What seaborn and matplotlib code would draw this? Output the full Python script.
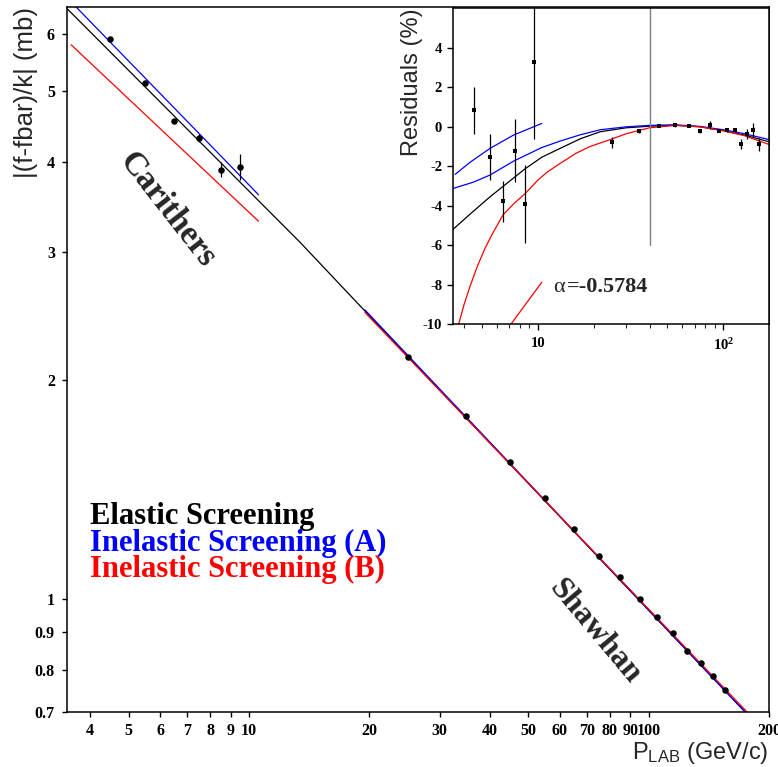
import matplotlib
matplotlib.use("Agg")
import matplotlib.pyplot as plt
import seaborn as sns
from matplotlib.ticker import FixedLocator, FixedFormatter, NullFormatter

sns.set_style("ticks")
plt.rcParams["font.family"] = ["Liberation Serif", "DejaVu Serif"]
plt.rcParams["font.weight"] = "bold"
plt.rcParams["mathtext.default"] = "regular"

# ---------------- data (main panel) ----------------
carithers_p = [4.5, 5.5, 6.5, 7.5, 8.5, 9.5]
carithers_val = [5.90, 5.13, 4.55, 4.31, 3.90, 3.93]
carithers_err = [0.03, 0.03, 0.03, 0.06, 0.09, 0.16]

shawhan_p = [25, 35, 45, 55, 65, 75, 85, 95, 105, 115, 125, 135, 145, 155]
shawhan_val = [2.156, 1.785, 1.546, 1.379, 1.250, 1.148, 1.072, 1.000,
               0.946, 0.898, 0.849, 0.817, 0.784, 0.750]

elastic_p = [3.5, 13.4, 25, 174]
elastic_val = [6.5, 3.10, 2.156, 0.70]
inelA_car_p = [3.5, 10.57]
inelA_car_val = [6.73, 3.60]
inelB_car_p = [3.59, 10.57]
inelB_car_val = [5.79, 3.31]
inelA_sh_p = [19.5, 174]
inelA_sh_val = [2.50, 0.70]
inelB_sh_p = [19.5, 176]
inelB_sh_val = [2.48, 0.70]

x_ticks = [4, 5, 6, 7, 8, 9, 10, 20, 30, 40, 50, 60, 70, 80, 90, 100, 200]
y_ticks = [0.7, 0.8, 0.9, 1, 2, 3, 4, 5, 6]

# ---------------- data (residual inset) ----------------
res_car_val = [0.83, -1.53, -3.78, -1.21, -3.90, 3.29]
res_car_err = [1.18, 1.16, 1.03, 1.60, 1.97, 3.93]
res_sh_val = [-0.79, -0.20, 0.05, 0.09, 0.05, -0.22, 0.09, -0.20, -0.15,
              -0.18, -0.86, -0.37, -0.17, -0.89]
res_sh_err = [0.28, 0.10, 0.08, 0.08, 0.08, 0.08, 0.20, 0.08, 0.10, 0.10,
              0.25, 0.25, 0.34, 0.34]

res_el_p = [3.5, 4.3, 5.53, 6.53, 8.44, 10.5, 13.2, 17, 21.7, 30, 40, 55, 75,
            100, 130, 177]
res_el_val = [-5.18, -4.43, -3.54, -3.0, -2.16, -1.54, -1.09, -0.6, -0.25, -0.05,
              0.03, 0.08, 0.0, -0.2, -0.42, -0.76]
res_A1_p = [3.58, 4.32, 5.53, 7.39, 10.5]
res_A1_val = [-2.41, -1.79, -1.09, -0.42, 0.17]
res_A2_p = [3.5, 4.5, 5.53, 7.39, 10.5, 13.2, 17, 21.7, 30, 40, 55, 75, 100, 130, 177]
res_A2_val = [-3.12, -2.80, -2.44, -1.74, -1.05, -0.72, -0.40, -0.15, 0.0,
              0.07, 0.10, 0.02, -0.15, -0.35, -0.65]
res_B1_p = [3.74, 4.0, 4.3, 4.7, 5.16, 5.7, 6.5, 7.5, 8.5, 10, 11.2, 13.2, 16,
            19.1, 25, 30, 40, 55, 75, 100, 130, 177]
res_B1_val = [-10.0, -9.0, -8.1, -7.1, -6.2, -5.4, -4.45, -3.85, -3.4, -2.7, -2.3,
              -1.85, -1.35, -1.0, -0.62, -0.35, -0.05, 0.07, 0.0, -0.2, -0.45, -0.9]
res_B2_p = [7.15, 10.5]
res_B2_val = [-10.0, -7.87]
gray_p = [40, 40]
gray_val = [-6.0, 6.0]

# ---------------- figure ----------------
W, H = 778, 767
fig = plt.figure(figsize=(W / 100, H / 100), dpi=100)


def fx(px):
    return px / W


def fy(py):
    return 1 - py / H


ax = fig.add_axes([fx(66.7), fy(711.7), fx(769) - fx(66.7), fy(7.3) - fy(711.7)])
ax.set_xscale("log")
ax.set_yscale("log")

for p, v, c in [(elastic_p, elastic_val, "black"),
                (inelA_car_p, inelA_car_val, "blue"),
                (inelB_car_p, inelB_car_val, "red"),
                (inelA_sh_p, inelA_sh_val, "blue"),
                (inelB_sh_p, inelB_sh_val, "red")]:
    sns.lineplot(x=p, y=v, ax=ax, color=c, lw=0.9, sort=False, estimator=None)

ax.errorbar(carithers_p, carithers_val, yerr=carithers_err, fmt="none",
            ecolor="black", elinewidth=0.9, capsize=0, zorder=4)
sns.scatterplot(x=carithers_p + shawhan_p, y=carithers_val + shawhan_val, ax=ax,
                color="black", s=22, edgecolor="black", linewidth=0, zorder=5)

ax.set_xlim(3.5, 200)
ax.set_ylim(0.7, 6.52)
ax.xaxis.set_major_locator(FixedLocator(x_ticks))
ax.xaxis.set_major_formatter(FixedFormatter([str(t) for t in x_ticks]))
ax.xaxis.set_minor_locator(FixedLocator([]))
ax.xaxis.set_minor_formatter(NullFormatter())
ax.yaxis.set_major_locator(FixedLocator(y_ticks))
ax.yaxis.set_major_formatter(FixedFormatter([("%g" % t) for t in y_ticks]))
ax.yaxis.set_minor_locator(FixedLocator([]))
ax.yaxis.set_minor_formatter(NullFormatter())
ax.tick_params(axis="both", which="both", direction="out", length=3.5, width=1,
               labelsize=11.5, colors="black")
ax.tick_params(axis="x", pad=4.5)
ax.tick_params(axis="y", pad=5)
for lbl in ax.get_xticklabels() + ax.get_yticklabels():
    lbl.set_fontweight("bold")
for s in ax.spines.values():
    s.set_linewidth(1.1)
    s.set_color("black")

ax.set_xlabel("P$_{LAB}$ (GeV/c)", fontfamily="Liberation Sans", fontweight="normal",
              fontsize=17, ha="right", va="top")
ax.xaxis.set_label_coords(0.9986, -0.040)
ax.set_ylabel("|(f-fbar)/k| (mb)", fontfamily="Liberation Sans", fontweight="normal",
              fontsize=18.5, ha="right", va="bottom")
ax.yaxis.set_label_coords(-0.041, 1.0)

# legend-like coloured texts
for txt, col, by in [("Elastic Screening", "black", 524),
                     ("Inelastic Screening (A)", "blue", 550.5),
                     ("Inelastic Screening (B)", "red", 577)]:
    fig.text(fx(90), fy(by), txt, color=col, fontsize=22, fontweight="bold",
             ha="left", va="baseline")

fig.text(fx(167), fy(210), "Carithers", fontsize=24, fontweight="bold",
         rotation=-52, ha="center", va="center", rotation_mode="anchor")
fig.text(fx(595), fy(632), "Shawhan", fontsize=23, fontweight="bold",
         rotation=-50, ha="center", va="center", rotation_mode="anchor")

# ---------------- inset ----------------
axin = fig.add_axes([fx(453.3), fy(324.3), fx(769.3) - fx(453.3), fy(8.3) - fy(324.3)])
axin.set_facecolor("white")
axin.set_xscale("log")
for p, v, c in [(res_el_p, res_el_val, "black"),
                (res_A1_p, res_A1_val, "blue"),
                (res_A2_p, res_A2_val, "blue"),
                (res_B1_p, res_B1_val, "red"),
                (res_B2_p, res_B2_val, "red")]:
    sns.lineplot(x=p, y=v, ax=axin, color=c, lw=0.9, sort=False, estimator=None)
sns.lineplot(x=gray_p, y=gray_val, ax=axin, color="#7f7f7f", lw=1.0, sort=False,
             estimator=None)
axin.errorbar(carithers_p + shawhan_p, res_car_val + res_sh_val,
              yerr=res_car_err + res_sh_err, fmt="none", ecolor="black",
              elinewidth=0.9, capsize=0, zorder=4)
sns.scatterplot(x=carithers_p + shawhan_p, y=res_car_val + res_sh_val, ax=axin,
                color="black", s=6, marker="s", linewidth=0, zorder=5)

axin.set_xlim(3.5, 177)
axin.set_ylim(-10, 6)
axin.xaxis.set_major_locator(FixedLocator([10, 100]))
axin.xaxis.set_major_formatter(FixedFormatter(["10", "10$^{2}$"]))
axin.xaxis.set_minor_locator(FixedLocator([4, 5, 6, 7, 8, 9, 20, 30, 40, 50, 60, 70, 80, 90]))
axin.xaxis.set_minor_formatter(NullFormatter())
axin.yaxis.set_major_locator(FixedLocator([-10, -8, -6, -4, -2, 0, 2, 4]))
axin.yaxis.set_major_formatter(FixedFormatter(["-10", "-8", "-6", "-4", "-2", "0", "2", "4"]))
axin.tick_params(axis="both", which="major", direction="out", length=4, width=1,
                 labelsize=10.5, colors="black")
axin.tick_params(axis="x", which="minor", direction="out", length=3, width=0.8)
axin.tick_params(axis="x", pad=5)
axin.tick_params(axis="y", pad=4)
for lbl in axin.get_xticklabels() + axin.get_yticklabels():
    lbl.set_fontweight("bold")
for s in axin.spines.values():
    s.set_linewidth(1.1)
    s.set_color("black")
axin.set_xlabel("")
axin.set_ylabel("Residuals (%)", fontfamily="Liberation Sans", fontweight="normal",
                fontsize=17, ha="right", va="bottom")
axin.yaxis.set_label_coords(-0.095, 1.0)

fig.text(fx(553), fy(291.7), "\u03b1", fontsize=16, fontweight="normal",
         ha="left", va="baseline")
fig.text(fx(567), fy(291.7), "=-0.5784", fontsize=16, fontweight="bold",
         ha="left", va="baseline")

fig.savefig("out.png", dpi=100)
